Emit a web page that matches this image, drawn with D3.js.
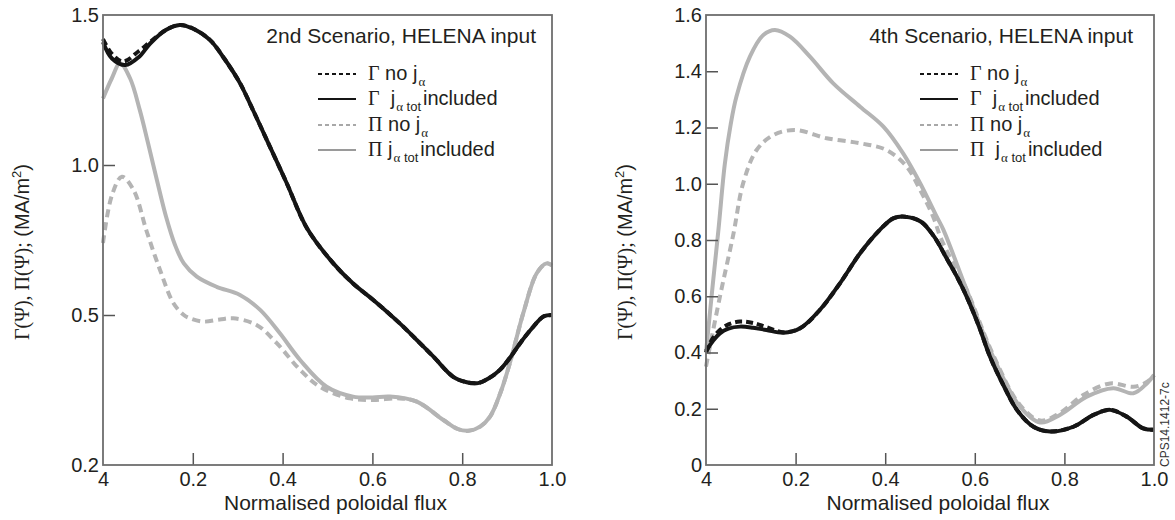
<!DOCTYPE html>
<html>
<head>
<meta charset="utf-8" />
<title>Gamma and Pi profiles</title>
<script src="https://d3js.org/d3.v7.min.js"></script>
<style type="text/css">
body { margin: 0; background: #fff; }
</style>
</head>
<body>
<div id="chart"></div>
<script type="text/javascript">
// tick labels as printed on the figure
var xTickValues = [0, 0.2, 0.4, 0.6, 0.8, 1.0];
var xTickLabels = ["4", "0.2", "0.4", "0.6", "0.8", "1.0"];
var yTicksLeft = [0, 0.5, 1.0, 1.5];
var yLabelsLeft = ["0.2", "0.5", "1.0", "1.5"];
var yTicksRight = [0, 0.2, 0.4, 0.6, 0.8, 1.0, 1.2, 1.4, 1.6];
var yLabelsRight = ["0", "0.2", "0.4", "0.6", "0.8", "1.0", "1.2", "1.4", "1.6"];

// 2nd scenario: [normalised flux, value]
var s2GammaNo = [[0,1.42],[0.02,1.37],[0.045,1.345],[0.08,1.38],[0.105,1.41],[0.14,1.45],[0.171,1.467],[0.2,1.455],[0.238,1.417],[0.27,1.355],[0.305,1.273],[0.335,1.18],[0.365,1.083],[0.409,0.94],[0.454,0.79],[0.513,0.672],[0.557,0.605],[0.602,0.55],[0.661,0.472],[0.70,0.415],[0.736,0.361],[0.78,0.294],[0.81,0.276],[0.835,0.273],[0.86,0.29],[0.884,0.317],[0.91,0.365],[0.929,0.406],[0.955,0.455],[0.981,0.495],[1.0,0.5]];
var s2GammaInc = [[0,1.41],[0.02,1.355],[0.05,1.333],[0.08,1.36],[0.105,1.405],[0.14,1.45],[0.171,1.467],[0.2,1.455],[0.238,1.417],[0.27,1.355],[0.305,1.273],[0.335,1.18],[0.365,1.083],[0.409,0.94],[0.454,0.79],[0.513,0.672],[0.557,0.605],[0.602,0.55],[0.661,0.472],[0.70,0.415],[0.736,0.361],[0.78,0.294],[0.81,0.276],[0.835,0.273],[0.86,0.29],[0.884,0.317],[0.91,0.365],[0.929,0.406],[0.955,0.455],[0.981,0.495],[1.0,0.5]];
var s2PiNo = [[0,0.74],[0.02,0.90],[0.042,0.961],[0.068,0.917],[0.097,0.78],[0.127,0.65],[0.157,0.539],[0.18,0.50],[0.194,0.489],[0.223,0.478],[0.26,0.485],[0.29,0.489],[0.342,0.467],[0.387,0.406],[0.439,0.317],[0.483,0.261],[0.55,0.222],[0.602,0.217],[0.661,0.222],[0.699,0.211],[0.758,0.15],[0.79,0.12],[0.814,0.114],[0.84,0.128],[0.862,0.161],[0.885,0.24],[0.906,0.339],[0.936,0.506],[0.966,0.639],[0.988,0.672],[1.0,0.665]];
var s2PiInc = [[0,1.222],[0.02,1.29],[0.038,1.339],[0.06,1.29],[0.082,1.183],[0.10,1.075],[0.12,0.95],[0.14,0.83],[0.16,0.735],[0.18,0.672],[0.209,0.628],[0.253,0.594],[0.305,0.567],[0.35,0.517],[0.394,0.439],[0.439,0.35],[0.498,0.261],[0.557,0.228],[0.60,0.225],[0.639,0.228],[0.699,0.211],[0.758,0.15],[0.79,0.12],[0.814,0.114],[0.84,0.128],[0.862,0.161],[0.885,0.24],[0.906,0.339],[0.936,0.506],[0.966,0.639],[0.988,0.672],[1.0,0.665]];

// 4th scenario
var s4GammaNo = [[0,0.40],[0.015,0.45],[0.031,0.48],[0.05,0.50],[0.076,0.51],[0.105,0.505],[0.135,0.49],[0.173,0.472],[0.21,0.486],[0.254,0.551],[0.299,0.646],[0.344,0.753],[0.388,0.836],[0.418,0.877],[0.444,0.883],[0.48,0.865],[0.51,0.81],[0.537,0.735],[0.56,0.67],[0.582,0.598],[0.61,0.49],[0.634,0.385],[0.665,0.28],[0.694,0.196],[0.731,0.136],[0.768,0.119],[0.82,0.136],[0.865,0.178],[0.902,0.196],[0.939,0.172],[0.976,0.13],[1.0,0.125]];
var s4GammaInc = [[0,0.405],[0.015,0.44],[0.031,0.468],[0.05,0.485],[0.076,0.492],[0.105,0.488],[0.135,0.48],[0.173,0.47],[0.21,0.486],[0.254,0.551],[0.299,0.646],[0.344,0.753],[0.388,0.836],[0.418,0.877],[0.444,0.883],[0.48,0.865],[0.51,0.81],[0.537,0.735],[0.56,0.67],[0.582,0.598],[0.61,0.49],[0.634,0.385],[0.665,0.28],[0.694,0.196],[0.731,0.136],[0.768,0.119],[0.82,0.136],[0.865,0.178],[0.902,0.196],[0.939,0.172],[0.976,0.13],[1.0,0.125]];
var s4PiNo = [[0,0.35],[0.031,0.598],[0.061,0.82],[0.083,1.002],[0.113,1.12],[0.15,1.173],[0.199,1.191],[0.269,1.162],[0.344,1.144],[0.403,1.12],[0.448,1.061],[0.478,0.978],[0.507,0.883],[0.526,0.8],[0.58,0.63],[0.64,0.395],[0.70,0.215],[0.746,0.158],[0.79,0.185],[0.842,0.249],[0.902,0.29],[0.954,0.278],[0.984,0.295],[1.0,0.32]];
var s4PiInc = [[0,0.40],[0.015,0.64],[0.028,0.84],[0.042,1.07],[0.055,1.21],[0.068,1.31],[0.098,1.452],[0.128,1.529],[0.154,1.547],[0.1875,1.523],[0.232,1.452],[0.284,1.357],[0.344,1.274],[0.396,1.203],[0.44,1.108],[0.478,1.002],[0.515,0.883],[0.53,0.836],[0.582,0.622],[0.641,0.385],[0.701,0.207],[0.746,0.151],[0.79,0.178],[0.85,0.243],[0.909,0.273],[0.954,0.255],[0.984,0.29],[1.0,0.32]];

var width = 1175,
    height = 520;
var sans = "Arial, 'Liberation Sans', Helvetica, sans-serif",
    serif = "'Times New Roman', 'Liberation Serif', serif";
var black = "#151515",
    grey = "#b4b4b4",
    frame = "#6e6e6e";

var svg = d3.select("#chart")
    .append("svg")
    .attr("width", width)
    .attr("height", height);

var panels = [
  {left: 103, right: 552, top: 15, bottom: 465, yMax: 1.5, yTicks: yTicksLeft, yLabels: yLabelsLeft,
   title: "2nd Scenario, HELENA input", titleInset: 16, piGap: " j",
   series: {gNo: s2GammaNo, gInc: s2GammaInc, pNo: s2PiNo, pInc: s2PiInc}},
  {left: 706, right: 1154, top: 15, bottom: 465, yMax: 1.6, yTicks: yTicksRight, yLabels: yLabelsRight,
   title: "4th Scenario, HELENA input", titleInset: 21, piGap: "  j",
   series: {gNo: s4GammaNo, gInc: s4GammaInc, pNo: s4PiNo, pInc: s4PiInc}}
];

panels.forEach(function(p) {
  var x = d3.scaleLinear().domain([0, 1]).range([p.left, p.right]);
  var y = d3.scaleLinear().domain([0, p.yMax]).range([p.bottom, p.top]);

  var line = d3.line()
      .x(d => x(d[0]))
      .y(d => y(d[1]))
      .curve(d3.curveCatmullRom.alpha(0.5));

  // curves: grey first, black on top
  var curves = [
    {data: p.series.pNo, color: grey, dash: "8,5"},
    {data: p.series.pInc, color: grey, dash: null},
    {data: p.series.gNo, color: black, dash: "7,4"},
    {data: p.series.gInc, color: black, dash: null}
  ];
  svg.append("g").selectAll("path")
      .data(curves)
      .enter()
      .append("path")
      .attr("d", d => line(d.data))
      .attr("fill", "none")
      .attr("stroke", d => d.color)
      .attr("stroke-width", 4)
      .attr("stroke-linejoin", "round")
      .attr("stroke-dasharray", d => d.dash);

  // axes with inward ticks
  var xAxis = d3.axisBottom(x)
      .tickValues(xTickValues)
      .tickFormat((d, i) => xTickLabels[i])
      .tickSizeInner(-12)
      .tickSizeOuter(0)
      .tickPadding(7);
  var yAxis = d3.axisLeft(y)
      .tickValues(p.yTicks)
      .tickFormat((d, i) => p.yLabels[i])
      .tickSizeInner(-12)
      .tickSizeOuter(0)
      .tickPadding(4);

  var gX = svg.append("g")
      .attr("transform", "translate(0," + p.bottom + ")")
      .call(xAxis);
  var gY = svg.append("g")
      .attr("transform", "translate(" + p.left + ",0)")
      .call(yAxis);

  [gX, gY].forEach(function(g) {
    g.select(".domain").remove();
    g.attr("font-family", sans).attr("font-size", 20);
    g.selectAll(".tick text").attr("fill", "#231f20");
    g.selectAll(".tick line").attr("stroke", "#555").attr("stroke-width", 1.5);
  });
  gX.selectAll(".tick line").filter(d => d === 0 || d === 1).remove();
  gY.selectAll(".tick line").filter(d => d === 0 || d === p.yMax).remove();

  // frame
  svg.append("rect")
      .attr("x", p.left)
      .attr("y", p.top)
      .attr("width", p.right - p.left)
      .attr("height", p.bottom - p.top)
      .attr("fill", "none")
      .attr("stroke", frame)
      .attr("stroke-width", 1.8);

  // x title
  svg.append("text")
      .attr("x", (p.left + p.right) / 2 + 8)
      .attr("y", 510)
      .attr("text-anchor", "middle")
      .attr("font-family", sans)
      .attr("font-size", 21)
      .attr("fill", "#231f20")
      .text("Normalised poloidal flux");

  // y title
  var yt = svg.append("text")
      .attr("transform", "translate(" + (p.left - 74) + ",252) rotate(-90)")
      .attr("text-anchor", "middle")
      .attr("font-size", 20)
      .attr("fill", "#231f20");
  yt.append("tspan").attr("font-family", serif).text("\u0393(\u03A8), \u03A0(\u03A8);");
  yt.append("tspan").attr("font-family", sans).text(" (MA/m");
  yt.append("tspan").attr("font-family", sans).attr("font-size", 13).attr("dy", -8).text("2");
  yt.append("tspan").attr("font-family", sans).attr("dy", 8).text(")");

  // panel title
  svg.append("text")
      .attr("x", p.right - p.titleInset)
      .attr("y", 43)
      .attr("text-anchor", "end")
      .attr("font-family", sans)
      .attr("font-size", 21)
      .attr("fill", "#231f20")
      .text(p.title);

  // legend
  var rows = [
    {sym: "\u0393", pre: " no j", tot: false, color: black, dash: "4,3"},
    {sym: "\u0393", pre: "  j", tot: true, color: black, dash: null},
    {sym: "\u03A0", pre: " no j", tot: false, color: "#a8a8a8", dash: "4,3"},
    {sym: "\u03A0", pre: p.piGap, tot: true, color: "#9a9a9a", dash: null}
  ];
  var rowY = [74, 99, 125, 150];
  rows.forEach(function(r, i) {
    var ly = rowY[i];
    svg.append("line")
        .attr("x1", p.right - 234)
        .attr("x2", p.right - 196)
        .attr("y1", ly)
        .attr("y2", ly)
        .attr("stroke", r.color)
        .attr("stroke-width", 2)
        .attr("stroke-dasharray", r.dash);
    var t = svg.append("text")
        .attr("x", p.right - 184)
        .attr("y", ly + 6)
        .attr("font-size", 20)
        .attr("fill", "#231f20")
        .style("white-space", "pre");
    t.append("tspan").attr("font-family", serif).text(r.sym);
    t.append("tspan").attr("font-family", sans).text(r.pre);
    t.append("tspan").attr("font-family", serif).attr("font-size", 13).attr("dy", 6).attr("dx", 1).text("\u03B1");
    if (r.tot) {
      t.append("tspan").attr("font-family", sans).attr("font-size", 13).text(" tot");
      t.append("tspan").attr("font-family", sans).attr("font-size", 20).attr("dy", -6).attr("dx", 2).text("included");
    }
  });
});

// figure reference
svg.append("text")
    .attr("transform", "translate(1169,467) rotate(-90)")
    .attr("font-family", sans)
    .attr("font-size", 12)
    .attr("fill", "#333")
    .text("CPS14.1412-7c");
</script>
</body>
</html>
